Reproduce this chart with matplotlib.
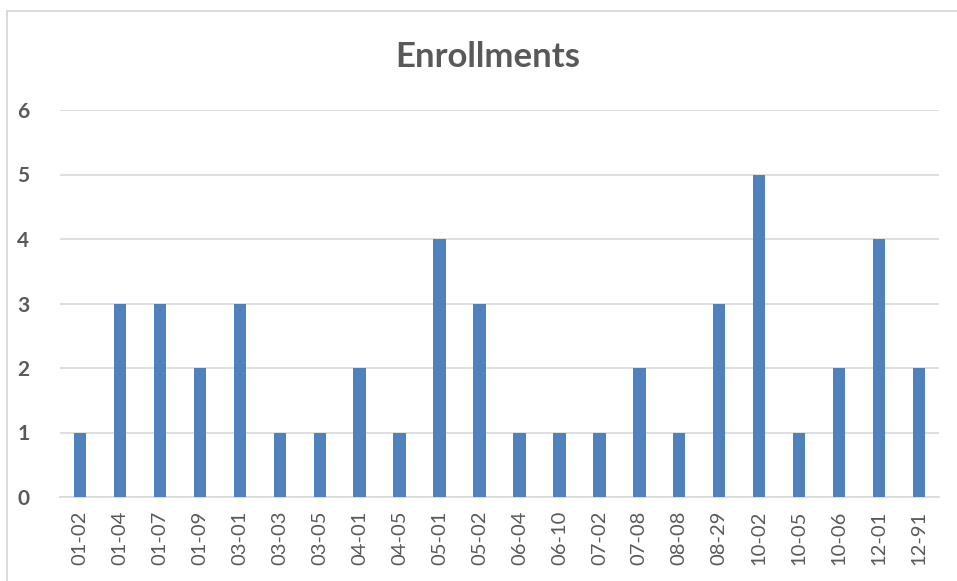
import matplotlib
matplotlib.use("Agg")
import matplotlib.pyplot as plt
from matplotlib.lines import Line2D

categories = ["01-02", "01-04", "01-07", "01-09", "03-01", "03-03", "03-05", "04-01",
              "04-05", "05-01", "05-02", "06-04", "06-10", "07-02", "07-08", "08-08",
              "08-29", "10-02", "10-05", "10-06", "12-01", "12-91"]
values = [1, 3, 3, 2, 3, 1, 1, 2, 1, 4, 3, 1, 1, 1, 2, 1, 3, 5, 1, 2, 4, 2]
yticks = [0, 1, 2, 3, 4, 5, 6]

plt.rcParams['font.family'] = ['Lato', 'DejaVu Sans']

W, H = 957, 581
fig = plt.figure(figsize=(W / 100, H / 100), dpi=100)
# chart-area border (top and left edges visible)
fig.lines.append(Line2D([7.5 / W, 1.0], [1 - 10.5 / H, 1 - 10.5 / H], transform=fig.transFigure,
                        color="#d9d9d9", linewidth=1.3))
fig.lines.append(Line2D([7.5 / W, 7.5 / W], [0, 1 - 10.5 / H], transform=fig.transFigure,
                        color="#d9d9d9", linewidth=1.3))
ax = fig.add_axes([60 / W, 1 - 497 / H, 879 / W, 387 / H])
x = list(range(len(categories)))
ax.bar(x, values, width=0.31, color="#4f81bd", zorder=3)
ax.set_xlim(-0.5, len(categories) - 0.5)
ax.set_ylim(0, 6)
ax.set_yticks(yticks)
ax.set_yticklabels([str(t) for t in yticks], fontsize=15, fontweight='bold', color="#595959")
ax.set_xticks(x)
ax.set_xticklabels(categories, rotation=90, fontsize=14.5, color="#595959")
ax.grid(axis='y', color="#d9d9d9", linewidth=1.2, zorder=0)
for s in ["top", "right", "left"]:
    ax.spines[s].set_visible(False)
ax.spines["bottom"].set_color("#d9d9d9")
ax.spines["bottom"].set_linewidth(1.2)
ax.tick_params(axis='y', length=0, pad=22)
ax.tick_params(axis='x', length=0, pad=10)
fig.text(488 / W, 1 - 57 / H, "Enrollments", ha='center', va='center', fontsize=25,
         fontweight='bold', color="#595959")
fig.savefig("out.png", dpi=100)
